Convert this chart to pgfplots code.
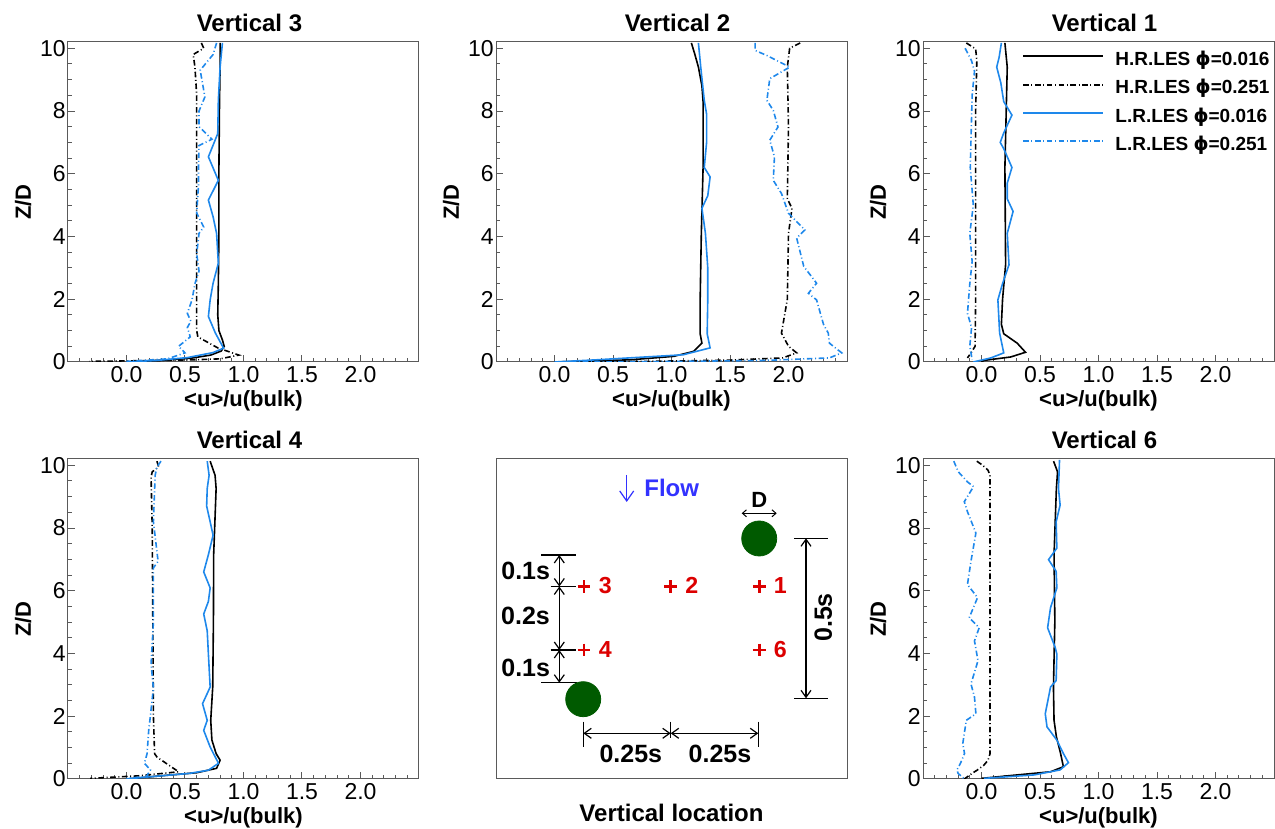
\documentclass[border=0pt]{standalone}
\usepackage{fontspec}
\setmainfont{Liberation Sans}
\newfontfamily\phifont{DejaVu Sans}
\usepackage{pgfplots}
\pgfplotsset{compat=1.18}
\usetikzlibrary{arrows.meta}
\definecolor{lblue}{RGB}{30,136,235}
\definecolor{dgreen}{RGB}{0,90,0}
\definecolor{flowblue}{RGB}{50,50,255}
\definecolor{dred}{RGB}{220,0,0}
\definecolor{axgray}{RGB}{90,90,90}
\newcommand{\phis}{{\phifont\bfseries ϕ}}
\tikzset{
  hr016/.style={black, line width=0.8pt},
  hr251/.style={black, line width=0.8pt, dash pattern=on 2.8pt off 1.3pt on 0.5pt off 1.3pt},
  lr016/.style={lblue, line width=0.8pt},
  lr251/.style={lblue, line width=0.8pt, dash pattern=on 2.8pt off 1.3pt on 0.5pt off 1.3pt},
  dim/.style={black, line width=0.6pt},
  dimarr/.style={dim, {Straight Barb[length=3.5pt,width=5pt]}-{Straight Barb[length=3.5pt,width=5pt]}},
}
\pgfplotsset{
  frame/.style={
    width=175.5pt, height=160pt, scale only axis,
    axis line style={axgray, line width=0.5pt},
    every axis title shift=0pt,
    title style={font=\bfseries\fontsize{12}{14}\selectfont, at={(axis description cs:0.517,1.034)}, anchor=base},
    xlabel style={font=\bfseries\fontsize{11}{13}\selectfont, at={(axis description cs:0.5,-0.139)}, anchor=base},
  },
  prof/.style={
    frame,
    xmin=-0.5, xmax=2.5, ymin=0, ymax=10.2,
    xtick={0,0.5,1,1.5,2}, minor xtick={-0.4,-0.3,...,2.45},
    ytick={0,2,4,6,8,10}, minor ytick={0.5,1,...,10},
    tick align=inside, xtick pos=bottom, ytick pos=left,
    major tick length=3.5pt, minor tick length=2pt,
    tick style={axgray, line width=0.5pt},
    /pgf/number format/assume math mode=true,
    tick label style={font=\fontsize{11.5}{13}\selectfont},
    xticklabel style={anchor=base, yshift=-10.5pt, /pgf/number format/fixed, /pgf/number format/fixed zerofill, /pgf/number format/precision=1},
    yticklabel style={anchor=east, inner sep=0pt, xshift=-1pt},
    xlabel={<u>/u(bulk)}, ylabel={Z/D},
    ylabel style={font=\bfseries\fontsize{11}{13}\selectfont, at={(axis description cs:-0.128,0.5)}, anchor=center},
    clip=true,
  },
}
\begin{document}
\begin{tikzpicture}
\useasboundingbox (0,0) rectangle (637.5pt,414.5pt);

% ---------------- Vertical 3 ----------------
\begin{axis}[prof, at={(34pt,233.5pt)}, anchor=south west, title={Vertical 3}]
\addplot[hr016] coordinates {(0.80,10.17) (0.80,9.4) (0.795,8.3) (0.79,6.2) (0.79,4.1) (0.785,2.5) (0.78,1.5) (0.79,1.0) (0.82,0.7) (0.835,0.5) (0.81,0.35) (0.72,0.22) (0.55,0.12) (0.3,0.05) (0.0,0.0)};
\addplot[hr251] coordinates {(0.64,10.17) (0.66,10.0) (0.57,9.8) (0.585,9.4) (0.60,8.5) (0.60,6.0) (0.60,4.0) (0.60,2.0) (0.60,1.0) (0.61,0.8) (0.78,0.45) (0.96,0.22) (0.8,0.1) (0.5,0.06) (0.1,0.04) (-0.32,0.02)};
\addplot[lr016] coordinates {(0.82,10.17) (0.80,9.4) (0.785,8.34) (0.78,7.28) (0.70,6.54) (0.785,5.79) (0.70,5.16) (0.74,4.63) (0.77,4.10) (0.785,3.15) (0.74,2.51) (0.715,1.98) (0.70,1.45) (0.76,0.92) (0.83,0.44) (0.74,0.3) (0.52,0.14) (0.26,0.05) (0.0,0.0)};
\addplot[lr251] coordinates {(0.77,10.17) (0.74,9.8) (0.63,9.3) (0.67,8.45) (0.62,8.0) (0.62,7.5) (0.73,7.1) (0.62,6.9) (0.615,6.2) (0.615,5.6) (0.60,4.75) (0.66,4.3) (0.62,4.1) (0.60,3.45) (0.62,2.9) (0.585,2.5) (0.56,1.98) (0.52,1.55) (0.55,1.3) (0.52,1.1) (0.545,0.8) (0.445,0.5) (0.50,0.29) (0.35,0.1) (0.0,0.02)};
\end{axis}

% ---------------- Vertical 2 ----------------
\begin{axis}[prof, at={(248pt,233.5pt)}, anchor=south west, title={Vertical 2}]
\addplot[hr016] coordinates {(1.17,10.17) (1.20,9.8) (1.23,9.4) (1.26,8.8) (1.27,8.3) (1.27,6.2) (1.255,4.1) (1.245,2.0) (1.245,0.9) (1.26,0.6) (1.19,0.34) (1.02,0.18) (0.65,0.07) (0.3,0.03) (0.0,0.0)};
\addplot[hr251] coordinates {(2.10,10.17) (2.01,10.0) (1.99,9.4) (2.0,7.5) (1.99,5.2) (2.03,4.9) (2.0,4.1) (1.99,2.0) (1.94,0.92) (2.0,0.5) (2.07,0.29) (1.95,0.13) (1.5,0.06) (0.8,0.02) (0.0,0.0)};
\addplot[lr016] coordinates {(1.23,10.17) (1.25,9.4) (1.28,8.34) (1.30,7.9) (1.30,7.0) (1.28,6.2) (1.33,5.9) (1.31,5.3) (1.26,4.9) (1.29,4.1) (1.31,3.0) (1.31,2.0) (1.305,0.9) (1.33,0.45) (1.10,0.23) (0.36,0.07) (0.0,0.0)};
\addplot[lr251] coordinates {(1.715,10.17) (1.715,9.93) (1.815,9.77) (2.01,9.40) (1.84,9.03) (1.815,8.34) (1.87,8.02) (1.91,7.49) (1.84,7.07) (1.88,6.54) (1.87,5.79) (1.94,5.37) (2.0,4.74) (2.14,4.21) (2.07,3.95) (2.13,3.05) (2.24,2.51) (2.17,2.19) (2.24,1.98) (2.28,1.45) (2.30,1.19) (2.34,0.92) (2.35,0.6) (2.455,0.29) (2.35,0.13) (1.8,0.05) (0.8,0.01) (0.0,0.0)};
\end{axis}

% ---------------- Vertical 1 ----------------
\begin{axis}[prof, at={(461.5pt,233.5pt)}, anchor=south west, title={Vertical 1},
  legend style={at={(axis description cs:1,1)}, anchor=north east, xshift=3.5pt, yshift=0pt, draw=none, fill=none,
    font=\bfseries\fontsize{9.5}{11}\selectfont, row sep=0pt,
    nodes={text height=7pt, text depth=2pt, inner sep=2.6pt}},
  legend cell align=left,
  legend image code/.code={\draw[#1, line width=1pt] (0pt,2.2pt) -- (40pt,2.2pt);}]
\addplot[hr016] coordinates {(0.20,10.17) (0.22,9.4) (0.20,6.2) (0.206,3.1) (0.18,2.0) (0.17,1.2) (0.19,0.9) (0.305,0.6) (0.376,0.31) (0.25,0.16) (0.02,0.05) (0.0,0.0)};
\addplot[hr251] coordinates {(-0.13,10.17) (-0.05,9.98) (-0.04,9.6) (-0.05,8.0) (-0.05,5.0) (-0.05,2.0) (-0.055,0.5) (-0.09,0.29) (-0.12,0.13)};
\addplot[lr016] coordinates {(0.17,10.17) (0.15,9.7) (0.13,9.4) (0.165,8.9) (0.19,8.3) (0.26,7.87) (0.19,7.3) (0.16,7.0) (0.19,6.8) (0.26,6.2) (0.22,5.7) (0.22,5.2) (0.27,4.8) (0.22,4.1) (0.235,3.1) (0.18,2.5) (0.14,1.98) (0.155,0.92) (0.19,0.29) (0.08,0.13) (-0.07,0.0)};
\addplot[lr251] coordinates {(-0.14,10.0) (-0.085,9.6) (-0.06,9.27) (-0.08,8.5) (-0.096,6.2) (-0.07,5.0) (-0.10,4.1) (-0.08,3.2) (-0.10,2.5) (-0.12,1.55) (-0.085,1.1) (-0.10,0.5) (-0.09,0.29) (-0.08,0.07)};
\legend{\hspace*{3pt}H.R.LES \phis=0.016, \hspace*{3pt}H.R.LES \phis=0.251, \hspace*{3pt}L.R.LES \phis=0.016, \hspace*{3pt}L.R.LES \phis=0.251}
\end{axis}

% ---------------- Vertical 4 ----------------
\begin{axis}[prof, at={(34pt,25pt)}, anchor=south west, title={Vertical 4}]
\addplot[hr016] coordinates {(0.715,10.13) (0.757,9.68) (0.766,9.26) (0.745,7.15) (0.743,5.04) (0.737,2.93) (0.72,1.87) (0.73,1.24) (0.766,0.81) (0.80,0.60) (0.77,0.34) (0.60,0.20) (0.29,0.10) (0.0,0.0)};
\addplot[hr251] coordinates {(0.26,10.13) (0.275,9.95) (0.22,9.79) (0.21,9.63) (0.22,8.0) (0.225,5.0) (0.23,2.0) (0.24,0.81) (0.26,0.7) (0.445,0.23) (0.1,0.1) (-0.31,0.02)};
\addplot[lr016] coordinates {(0.69,10.13) (0.706,9.68) (0.69,9.26) (0.685,8.7) (0.715,8.2) (0.74,7.77) (0.70,7.15) (0.66,6.6) (0.715,6.09) (0.70,5.66) (0.66,5.26) (0.69,4.72) (0.70,3.98) (0.715,2.93) (0.65,2.4) (0.69,1.87) (0.66,1.55) (0.715,1.02) (0.786,0.50) (0.70,0.28) (0.54,0.18) (0.2,0.07) (0.0,0.0)};
\addplot[lr251] coordinates {(0.295,10.13) (0.26,9.95) (0.245,9.68) (0.23,8.2) (0.27,6.94) (0.23,6.73) (0.23,5.0) (0.21,3.66) (0.23,2.9) (0.20,1.87) (0.19,1.56) (0.176,0.81) (0.153,0.5) (0.205,0.29) (0.17,0.08) (0.0,0.02)};
\end{axis}

% ---------------- Schematic ----------------
\begin{axis}[frame, at={(248pt,25pt)}, anchor=south west,
  xmin=0, xmax=351, ymin=0, ymax=320, xtick=\empty, ytick=\empty,
  xlabel={Vertical location},
  xlabel style={font=\bfseries\fontsize{12}{14}\selectfont, at={(axis description cs:0.5,-0.133)}, anchor=base},
  clip=false]
\addplot[only marks, mark=*, mark size=8.75pt, mark options={fill=dgreen, draw=dgreen}] coordinates {(263.2,240.5) (87.2,79.8)};
\addplot[only marks, mark=+, mark size=3.2pt, mark options={draw=dred, line width=1.3pt}] coordinates {(88,192.5) (174.7,192.5) (263.3,192.5) (88,129) (263.3,129)};
% numbers
\node[anchor=base west, inner sep=0pt, text=dred, font=\bfseries\fontsize{11.6}{13}\selectfont] at (axis cs:102.5,185.7) {3};
\node[anchor=base west, inner sep=0pt, text=dred, font=\bfseries\fontsize{11.6}{13}\selectfont] at (axis cs:189,185.7) {2};
\node[anchor=base west, inner sep=0pt, text=dred, font=\bfseries\fontsize{11.6}{13}\selectfont] at (axis cs:277.5,185.7) {1};
\node[anchor=base west, inner sep=0pt, text=dred, font=\bfseries\fontsize{11.6}{13}\selectfont] at (axis cs:102.5,121.7) {4};
\node[anchor=base west, inner sep=0pt, text=dred, font=\bfseries\fontsize{11.6}{13}\selectfont] at (axis cs:277.5,121.7) {6};
% flow
\draw[flowblue, line width=0.6pt, -{Straight Barb[length=5pt,width=7pt]}] (axis cs:130.7,304) -- (axis cs:130.7,277);
\node[anchor=base west, inner sep=0pt, text=flowblue, font=\bfseries\fontsize{12}{14}\selectfont] at (axis cs:148,282.3) {Flow};
% D
\node[anchor=base, inner sep=0pt, font=\bfseries\fontsize{11}{13}\selectfont] at (axis cs:263.3,271.3) {D};
\draw[black, line width=0.5pt, {Straight Barb[length=2pt,width=3.5pt]}-{Straight Barb[length=2pt,width=3.5pt]}] (axis cs:245.7,265.7) -- (axis cs:280.7,265.7);
% right dimension 0.5s
\draw[dim] (axis cs:298,240.7) -- (axis cs:332.3,240.7);
\draw[dim] (axis cs:298,80.7) -- (axis cs:332.3,80.7);
\draw[dimarr] (axis cs:310,240.7) -- (axis cs:310,80.7);
\node[rotate=90, anchor=center, inner sep=0pt, font=\bfseries\fontsize{12.5}{14}\selectfont] at (axis cs:327.3,161.5) {0.5s};
% left dimension
\draw[dim] (axis cs:45,224) -- (axis cs:79.7,224);
\draw[dim] (axis cs:54.7,192.5) -- (axis cs:79.7,192.5);
\draw[dim] (axis cs:54.7,129) -- (axis cs:79.7,129);
\draw[dim] (axis cs:45,96.3) -- (axis cs:80.7,96.3);
\draw[dimarr] (axis cs:63.3,224) -- (axis cs:63.3,192.5);
\draw[dimarr] (axis cs:63.3,192.5) -- (axis cs:63.3,129);
\draw[dimarr] (axis cs:63.3,129) -- (axis cs:63.3,96.3);
\node[anchor=base, inner sep=0pt, font=\bfseries\fontsize{12.5}{14}\selectfont] at (axis cs:29.7,199) {0.1s};
\node[anchor=base, inner sep=0pt, font=\bfseries\fontsize{12.5}{14}\selectfont] at (axis cs:29.5,154) {0.2s};
\node[anchor=base, inner sep=0pt, font=\bfseries\fontsize{12.5}{14}\selectfont] at (axis cs:29.7,102.3) {0.1s};
% bottom dimension
\draw[dim] (axis cs:87.3,57.3) -- (axis cs:87.3,32.3);
\draw[dim] (axis cs:174.7,57.3) -- (axis cs:174.7,40.7);
\draw[dim] (axis cs:262.3,57.3) -- (axis cs:262.3,32.3);
\draw[dimarr] (axis cs:87.3,45.7) -- (axis cs:174.7,45.7);
\draw[dimarr] (axis cs:174.7,45.7) -- (axis cs:262.3,45.7);
\node[anchor=base, inner sep=0pt, font=\bfseries\fontsize{12.5}{14}\selectfont] at (axis cs:134.8,16.7) {0.25s};
\node[anchor=base, inner sep=0pt, font=\bfseries\fontsize{12.5}{14}\selectfont] at (axis cs:224,16.7) {0.25s};
\end{axis}

% ---------------- Vertical 6 ----------------
\begin{axis}[prof, at={(461.5pt,25pt)}, anchor=south west, title={Vertical 6}]
\addplot[hr016] coordinates {(0.616,10.13) (0.65,9.79) (0.64,9.26) (0.62,7.15) (0.627,5.04) (0.615,2.93) (0.62,1.87) (0.64,1.35) (0.676,0.81) (0.70,0.39) (0.59,0.23) (0.305,0.13) (0.0,0.02)};
\addplot[hr251] coordinates {(-0.04,10.13) (0.01,10.0) (0.056,9.84) (0.073,9.68) (0.073,6.0) (0.073,2.0) (0.073,0.81) (0.056,0.6) (0.02,0.44) (-0.034,0.29) (-0.08,0.18) (-0.147,0.0)};
\addplot[lr016] coordinates {(0.667,10.17) (0.658,9.26) (0.672,8.73) (0.638,8.2) (0.644,7.36) (0.573,6.99) (0.638,6.62) (0.644,6.09) (0.59,5.46) (0.565,4.82) (0.63,4.19) (0.644,3.98) (0.638,3.14) (0.59,2.93) (0.545,2.08) (0.56,1.66) (0.644,1.24) (0.70,0.81) (0.743,0.52) (0.672,0.29) (0.45,0.13) (0.02,0.02)};
\addplot[lr251] coordinates {(-0.237,10.13) (-0.198,9.79) (-0.12,9.47) (-0.068,9.32) (-0.147,8.84) (-0.12,8.52) (-0.048,7.84) (-0.09,6.94) (-0.12,6.2) (-0.034,5.78) (-0.105,5.14) (-0.02,4.82) (-0.06,4.40) (-0.03,3.77) (-0.09,3.03) (-0.06,2.61) (-0.048,2.08) (-0.13,1.87) (-0.16,1.13) (-0.145,0.81) (-0.18,0.5) (-0.21,0.29) (-0.20,0.18) (-0.147,0.0)};
\end{axis}
\end{tikzpicture}
\end{document}
